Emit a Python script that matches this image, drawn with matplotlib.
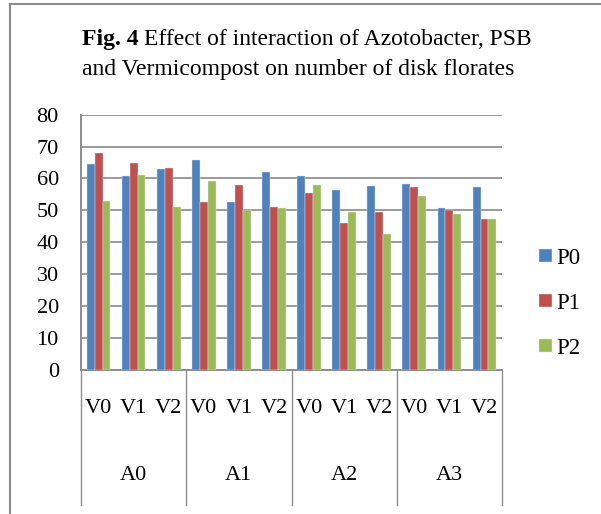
import numpy as np
import matplotlib.pyplot as plt
from matplotlib.lines import Line2D

plt.rcParams['font.family'] = ['Liberation Serif', 'DejaVu Serif']

# data
groups = ['A0', 'A1', 'A2', 'A3']
subcats = ['V0', 'V1', 'V2']
series = ['P0', 'P1', 'P2']
p0 = [64.5, 60.7, 63.0, 65.7, 52.6, 61.9, 60.7, 56.4, 57.6, 58.4, 50.8, 57.3]
p1 = [67.9, 64.9, 63.3, 52.6, 57.9, 51.0, 55.3, 46.1, 49.5, 57.3, 50.0, 47.3]
p2 = [53.0, 61.0, 51.0, 59.1, 50.0, 50.7, 58.0, 49.5, 42.6, 54.5, 48.8, 47.3]
colors = ['#4F81BD', '#C0504D', '#9BBB59']

fig = plt.figure(figsize=(6.01, 5.14), dpi=100)
ax = fig.add_axes([0.1348, 0.2802, 0.7005, 0.4967])

x = np.arange(len(p0))
w = 0.225
for k, (vals, c, name) in enumerate(zip([p0, p1, p2], colors, series)):
    ax.bar(x + (k - 1) * w, vals, w, color=c, label=name,
           edgecolor='#dfe6f2', linewidth=0.3, zorder=3)

ax.set_xlim(-0.5, len(p0) - 0.5)
ax.set_ylim(0, 80)
ax.set_yticks(np.arange(0, 81, 10))
ax.tick_params(axis='y', length=0, labelsize=16, pad=16)
ax.set_xticks([])
ax.grid(axis='y', color='#9a9a9a', linewidth=1.4, zorder=0)
for s in ['top', 'right']:
    ax.spines[s].set_visible(False)
for s in ['left', 'bottom']:
    ax.spines[s].set_color('#8c8c8c')
    ax.spines[s].set_linewidth(1.4)

# category labels below the axis
tr = ax.get_xaxis_transform()
for i in range(len(p0)):
    ax.text(i, -0.149, subcats[i % 3], transform=tr, ha='center', va='center', fontsize=16)
for g, name in enumerate(groups):
    ax.text(g * 3 + 1, -0.415, name, transform=tr, ha='center', va='center', fontsize=16)
for g in range(len(groups) + 1):
    ax.plot([g * 3 - 0.5] * 2, [0, -0.529], transform=tr, color='#8c8c8c',
            linewidth=1.0, clip_on=False)

ax.legend(loc='center left', bbox_to_anchor=(1.088, 0.262), frameon=False,
          fontsize=16.5, handlelength=0.55, handleheight=0.55,
          labelspacing=1.05, handletextpad=0.2, borderpad=0, borderaxespad=0)

# title, first words in bold
t1 = fig.text(0.136, 0.9125, 'Fig. 4', fontsize=17, va='baseline', ha='left',
              fontweight='bold')
fig.canvas.draw()
bb = t1.get_window_extent()
fig.text(bb.x1 / fig.bbox.width + 0.009, 0.9125,
         'Effect of interaction of Azotobacter, PSB', fontsize=17,
         va='baseline', ha='left')
fig.text(0.136, 0.854, 'and Vermicompost on number of disk florates',
         fontsize=17, va='baseline', ha='left')

# outer frame
fig.add_artist(Line2D([10 / 601, 10 / 601], [0, 1 - 4 / 514],
                      color='#8c8c8c', linewidth=1.5))
fig.add_artist(Line2D([10 / 601, 1], [1 - 4 / 514, 1 - 4 / 514],
                      color='#8c8c8c', linewidth=1.5))

fig.savefig('out.png', dpi=100)
